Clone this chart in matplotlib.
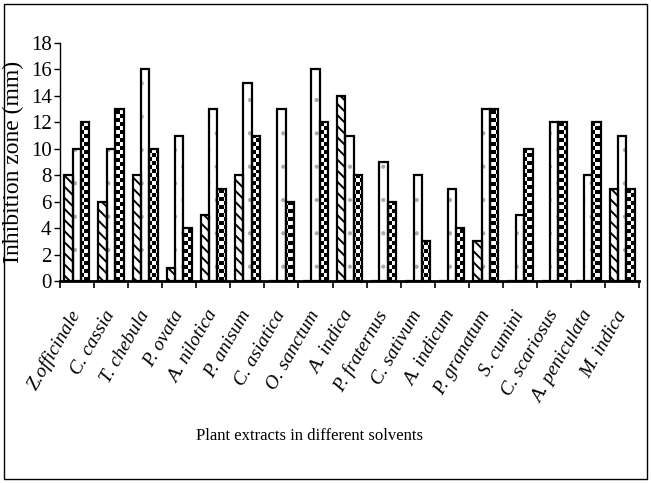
import matplotlib
matplotlib.use("Agg")
import matplotlib.pyplot as plt
import numpy as np
from matplotlib.patches import Rectangle

plants = ['Z.officinale', 'C. cassia', 'T. chebula', 'P. ovata', 'A. nilotica',
          'P. anisum', 'C. asiatica', 'O. sanctum', 'A. indica', 'P. fraternus',
          'C. sativum', 'A. indicum', 'P. granatum', 'S. cumini', 'C. scariosus',
          'A. peniculata', 'M. indica']
solvent1 = [8, 6, 8, 1, 5, 8, 0, 0, 14, 0, 0, 0, 3, 0, 0, 0, 7]
solvent2 = [10, 10, 16, 11, 13, 15, 13, 16, 11, 9, 8, 7, 13, 5, 12, 8, 11]
solvent3 = [12, 13, 10, 4, 7, 11, 6, 12, 8, 6, 3, 4, 13, 10, 12, 12, 7]
yticks = np.arange(0, 19, 2)

plt.rcParams['font.family'] = ['Liberation Serif', 'DejaVu Serif']

fig = plt.figure(figsize=(6.51, 4.83), dpi=100)
ax = fig.add_axes([0.092, 0.418, 0.89, 0.493])

x = np.arange(len(plants)) + 0.5
w = 0.245

###hatched bars
plt.rcParams['hatch.linewidth'] = 1.4
ax.bar(x - w, solvent1, w, color='white', edgecolor='black', hatch='\\\\\\', linewidth=0)
###dotted bars
plt.rcParams['hatch.linewidth'] = 0.6
ax.bar(x, solvent2, w, color='white', edgecolor='#aaaaaa', hatch='.', linewidth=0)
###checkered bars: checkerboard texture clipped to each bar
bars3 = ax.bar(x + w, solvent3, w, color='white', linewidth=0)
checker = np.indices((60, 145)).sum(axis=0) % 2
for b in bars3:
    im = ax.imshow(checker, cmap='gray', extent=(0, len(plants), 0, 18), zorder=2,
                   aspect='auto', interpolation='nearest', origin='lower')
    im.set_clip_path(b)

#outlines
for off, vals in ((-w, solvent1), (0, solvent2), (w, solvent3)):
    ax.bar(x + off, vals, w, fill=False, edgecolor='black', linewidth=1.6, zorder=3)

ax.set_xlim(0, len(plants))
ax.set_ylim(0, 18)
ax.set_yticks(yticks)
ax.tick_params(axis='y', direction='out', length=4, width=1, labelsize=15, pad=2)

ax.set_xticks(x)
ax.set_xticklabels(plants, rotation=60, ha='right', va='center', rotation_mode='anchor',
                   fontsize=14, style='italic')
ax.set_xticks(np.arange(len(plants) + 1), minor=True)
ax.tick_params(axis='x', which='major', length=0, pad=22)
ax.tick_params(axis='x', which='minor', direction='out', length=5, width=1.2)

ax.spines['top'].set_visible(False)
ax.spines['right'].set_visible(False)
ax.spines['bottom'].set_linewidth(2)
ax.spines['bottom'].set_zorder(4)
ax.spines['left'].set_linewidth(1)

ax.set_ylabel('Inhibition zone (mm)', fontsize=17, labelpad=5)
fig.text(0.476, 0.097, 'Plant extracts in different solvents', ha='center', va='center', fontsize=12)

#frame round the figure
fig.patches.append(Rectangle((0.006, 0.008), 0.988, 0.984, transform=fig.transFigure,
                             fill=False, edgecolor='black', linewidth=1))

fig.savefig('out.png', dpi=100)
